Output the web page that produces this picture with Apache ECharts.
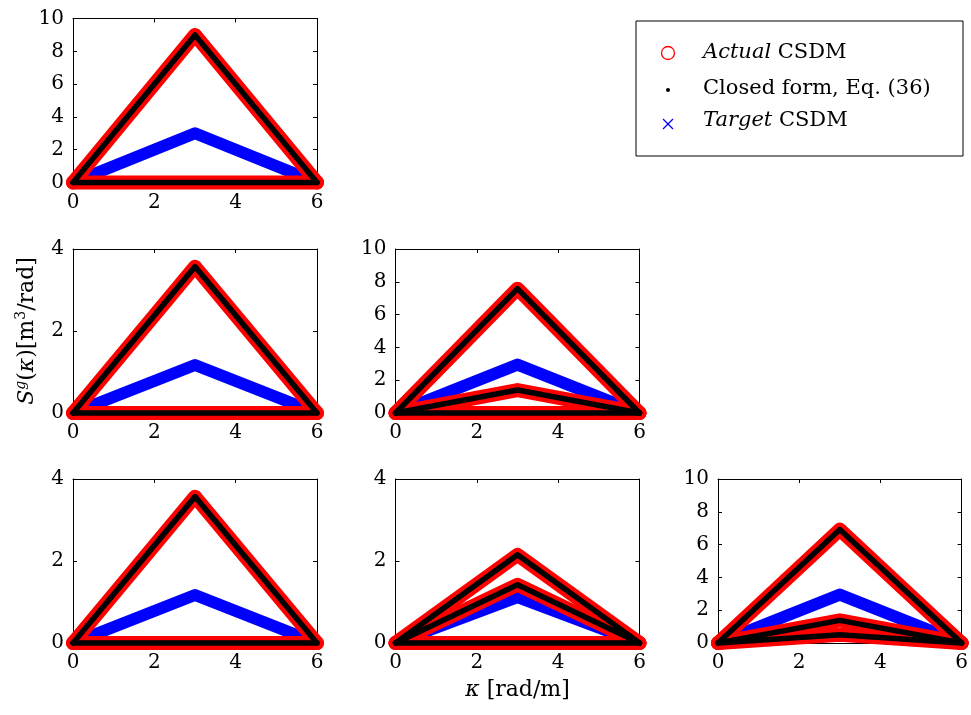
<!DOCTYPE html>
<html><head><meta charset="utf-8">
<script src="https://cdn.jsdelivr.net/npm/echarts@6/dist/echarts.min.js"></script>
<style>html,body{margin:0;padding:0;background:#fff}#c{width:971px;height:715px}</style>
</head><body><div id="c"></div>
<script>
// ---- data ----
const kappa = [0, 3, 6];              // rad/m
const xTickStep = 2;
const xMax = 6;
const yTickStep = 2;

// panel (1,1)
const actual11 = [[0, 9, 0], [0, 0, 0]];
const closed11 = [[0, 9, 0], [0, 0, 0]];
const target11 = [[0, 3, 0]];
// panel (2,1)
const actual21 = [[0, 3.57, 0], [0, 0, 0]];
const closed21 = [[0, 3.57, 0], [0, 0, 0]];
const target21 = [[0, 1.17, 0]];
// panel (2,2)
const actual22 = [[0, 7.58, 0], [0, 1.4, 0], [0, 0, 0]];
const closed22 = [[0, 7.58, 0], [0, 1.4, 0], [0, 0, 0]];
const target22 = [[0, 2.95, 0]];
// panel (3,1)
const actual31 = [[0, 3.57, 0], [0, 0, 0]];
const closed31 = [[0, 3.57, 0], [0, 0, 0]];
const target31 = [[0, 1.17, 0]];
// panel (3,2)
const actual32 = [[0, 2.15, 0], [0, 1.42, 0], [0, 0, 0]];
const closed32 = [[0, 2.15, 0], [0, 1.42, 0], [0, 0, 0]];
const target32 = [[0, 1.12, 0]];
// panel (3,3)
const actual33 = [[0, 6.92, 0], [0, 1.38, 0], [0, 0.5, 0]];
const closed33 = [[0, 6.92, 0], [0, 1.38, 0], [0, 0.5, 0]];
const target33 = [[0, 2.95, 0]];

const yMaxes = [10, 4, 10, 4, 4, 10];
const legendNames = ['Actual CSDM', 'Closed form, Eq. (36)', 'Target CSDM'];

// ---- layout ----
const FONT = 'DejaVu Serif';
const colLeft = [73, 395.5, 718];
const rowTop = [18.5, 249, 479];
const W = 244, H = 164;
const panels = [
  {r: 0, c: 0, a: actual11, k: closed11, t: target11},
  {r: 1, c: 0, a: actual21, k: closed21, t: target21},
  {r: 1, c: 1, a: actual22, k: closed22, t: target22},
  {r: 2, c: 0, a: actual31, k: closed31, t: target31},
  {r: 2, c: 1, a: actual32, k: closed32, t: target32},
  {r: 2, c: 2, a: actual33, k: closed33, t: target33}
];

const grids = [], xAxes = [], yAxes = [], series = [];
const lineCol = '#000';

panels.forEach((p, i) => {
  grids.push({left: colLeft[p.c], top: rowTop[p.r], width: W, height: H,
    show: false, containLabel: false});
  const common = {
    gridIndex: i, type: 'value', min: 0, splitLine: {show: false},
    axisLine: {show: true, onZero: false, lineStyle: {color: lineCol, width: 1}},
    axisTick: {show: true, inside: true, length: 4, lineStyle: {color: lineCol, width: 1}}
  };
  xAxes.push(Object.assign({}, common, {position: 'bottom', max: xMax, interval: xTickStep,
    axisLabel: {show: true, color: '#000', fontFamily: FONT, fontSize: 20, margin: 10}}));
  xAxes.push(Object.assign({}, common, {position: 'top', max: xMax, interval: xTickStep,
    axisLabel: {show: false}}));
  yAxes.push(Object.assign({}, common, {position: 'left', max: yMaxes[i], interval: yTickStep,
    axisLabel: {show: true, color: '#000', fontFamily: FONT, fontSize: 20, margin: 9}}));
  yAxes.push(Object.assign({}, common, {position: 'right', max: yMaxes[i], interval: yTickStep,
    axisLabel: {show: false}}));

  const xi = 2 * i, yi = 2 * i;
  const mk = (name, vals, color, width, cap, z) => ({
    type: 'line', name, xAxisIndex: xi, yAxisIndex: yi,
    data: kappa.map((k, j) => [k, vals[j]]),
    symbol: 'none', clip: false, silent: true, animation: false, z,
    lineStyle: {color, width, cap, join: 'round'}
  });
  p.t.forEach(v => series.push(mk(legendNames[2], v, '#0000ff', 12, 'butt', 2)));
  p.a.forEach(v => series.push(mk(legendNames[0], v, '#ff0000', 14, 'round', 3)));
  p.k.forEach(v => series.push(mk(legendNames[1], v, '#000000', 5.5, 'round', 4)));
});

// axis names
const rich = {
  n: {fontFamily: FONT, fontSize: 22, color: '#000', lineHeight: 26},
  i: {fontFamily: FONT, fontSize: 22, fontStyle: 'italic', color: '#000', lineHeight: 26},
  si: {fontFamily: FONT, fontSize: 14, fontStyle: 'italic', color: '#000', lineHeight: 14, verticalAlign: 'top'},
  s: {fontFamily: FONT, fontSize: 14, color: '#000', lineHeight: 14, verticalAlign: 'top'}
};
// y name on panel (2,1) left axis => yAxes index 2
Object.assign(yAxes[2], {
  name: '{i|S}{si|g}{n|(}{i|κ}{n|)[m}{s|3}{n|/rad]}',
  nameLocation: 'middle', nameGap: 33, nameRotate: 90,
  nameTextStyle: {rich, fontFamily: FONT, fontSize: 22, color: '#000'}
});
// x name on panel (3,2) bottom axis => xAxes index 8
Object.assign(xAxes[8], {
  name: '{i|κ}{n| [rad/m]}',
  nameLocation: 'middle', nameGap: 34,
  nameTextStyle: {rich, fontFamily: FONT, fontSize: 22, color: '#000'}
});

// legend box (drawn)
const LX = 636, LY = 21, LW = 327, LH = 135;
const legendRich = {
  i: {fontFamily: FONT, fontSize: 21, fontStyle: 'italic', fill: '#000'},
  n: {fontFamily: FONT, fontSize: 21, fill: '#000'}
};
const graphic = [
  {type: 'rect', shape: {x: LX, y: LY, width: LW, height: LH},
    style: {fill: '#fff', stroke: '#000', lineWidth: 1}, z: 10},
  {type: 'circle', shape: {cx: 668, cy: 53, r: 6.5},
    style: {fill: 'none', stroke: '#ff0000', lineWidth: 1.3}, z: 11},
  {type: 'circle', shape: {cx: 668, cy: 90, r: 2},
    style: {fill: '#000'}, z: 11},
  {type: 'line', shape: {x1: 663, y1: 119, x2: 673, y2: 129},
    style: {stroke: '#0000ff', lineWidth: 1.3}, z: 11},
  {type: 'line', shape: {x1: 663, y1: 129, x2: 673, y2: 119},
    style: {stroke: '#0000ff', lineWidth: 1.3}, z: 11},
  {type: 'text', x: 703, y: 53, z: 11,
    style: {text: '{i|Actual}{n| CSDM}', rich: legendRich, font: '21px "DejaVu Serif"', verticalAlign: 'middle', fill: '#000'}},
  {type: 'text', x: 703, y: 89, z: 11,
    style: {text: '{n|Closed form, Eq. (36)}', rich: legendRich, font: '21px "DejaVu Serif"', verticalAlign: 'middle', fill: '#000'}},
  {type: 'text', x: 703, y: 121, z: 11,
    style: {text: '{i|Target}{n| CSDM}', rich: legendRich, font: '21px "DejaVu Serif"', verticalAlign: 'middle', fill: '#000'}}
];

const chart = echarts.init(document.getElementById('c'), null, {renderer: 'canvas'});
chart.setOption({
  animation: false,
  backgroundColor: '#fff',
  grid: grids, xAxis: xAxes, yAxis: yAxes, series, graphic
});
</script></body></html>
